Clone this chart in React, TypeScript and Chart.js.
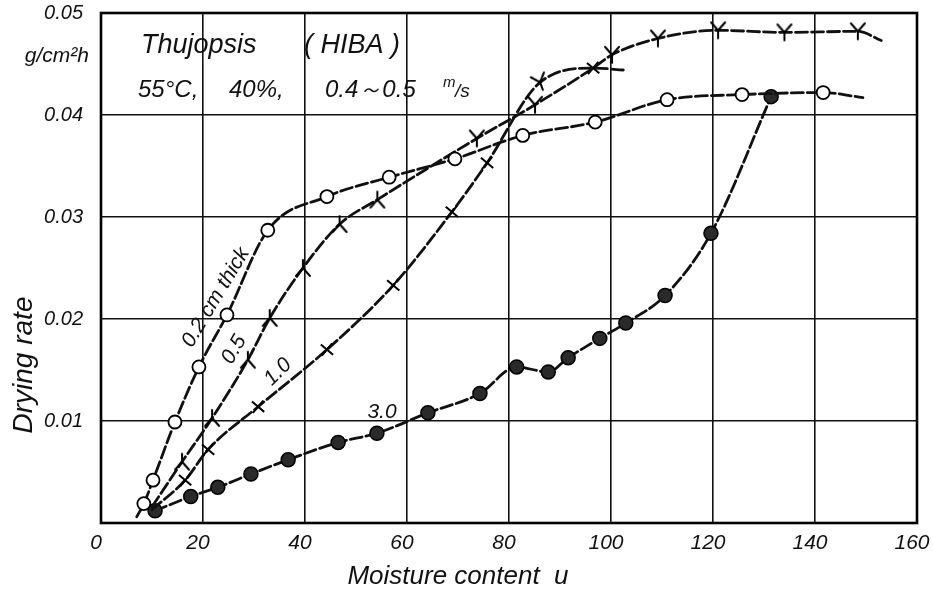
import { useEffect, useRef } from 'react';
import { Chart, registerables } from 'chart.js';

Chart.register(...registerables);

// Axis ticks
const moistureTicks = [0, 20, 40, 60, 80, 100, 120, 140, 160];
const rateTicks = [0, 0.01, 0.02, 0.03, 0.04, 0.05];

// 0.2 cm thick board
const u02 = [7, 8.4, 10.2, 14.5, 19.2, 24.7, 32.7, 44.3, 56.5, 69.4, 82.7, 96.9, 111, 125.7, 141.6, 149.4];
const rate02 = [0.0006, 0.0019, 0.0042, 0.0099, 0.0153, 0.0204, 0.0287, 0.032, 0.0339, 0.0357, 0.038, 0.0393, 0.0415, 0.042, 0.0422, 0.0417];

// 0.5 cm thick board
const u05 = [10, 15.9, 21.8, 28.8, 33.1, 39.6, 46.8, 54.2, 73.7, 85.1, 96.5, 100.2, 109.2, 121, 134, 148.4, 153];
const rate05 = [0.0016, 0.006, 0.0103, 0.016, 0.0201, 0.025, 0.0293, 0.0317, 0.0377, 0.041, 0.0446, 0.0459, 0.0475, 0.0483, 0.0481, 0.0482, 0.0473];

// 1.0 cm thick board
const u10 = [10, 16.5, 21, 30.8, 44.3, 57.3, 68.8, 75.7, 86.1, 96.5, 102.7];
const rate10 = [0.0013, 0.0042, 0.0072, 0.0114, 0.017, 0.0233, 0.0305, 0.0353, 0.0432, 0.0446, 0.0444];

// 3.0 cm thick board
const u30 = [10.6, 17.6, 22.9, 29.4, 36.7, 46.5, 54.1, 64.1, 74.3, 81.5, 87.7, 91.6, 97.8, 102.9, 110.6, 119.6, 131.4];
const rate30 = [0.0012, 0.0026, 0.0035, 0.0048, 0.0062, 0.0079, 0.0088, 0.0108, 0.0127, 0.0153, 0.0148, 0.0162, 0.0181, 0.0196, 0.0223, 0.0284, 0.0418];

const curveLabels = [
  { text: '0.2 cm thick', u: 22.5, v: 0.0221, angle: -59 },
  { text: '0.5', u: 26.1, v: 0.017, angle: -60 },
  { text: '1.0', u: 34.7, v: 0.0148, angle: -45 },
  { text: '3.0', u: 55.1, v: 0.0109, angle: 0 },
];

const FONT = '"Liberation Sans", Arial, sans-serif';

const toPoints = (xs: number[], ys: number[]) => xs.map((x, i) => ({ x, y: ys[i] }));

function makeYMarker(): HTMLCanvasElement {
  const c = document.createElement('canvas');
  c.width = 20;
  c.height = 20;
  const g = c.getContext('2d')!;
  g.strokeStyle = '#000';
  g.lineWidth = 2;
  g.lineCap = 'round';
  g.beginPath();
  g.moveTo(10, 10);
  g.lineTo(10, 18);
  g.moveTo(10, 10);
  g.lineTo(3, 2);
  g.moveTo(10, 10);
  g.lineTo(17, 2);
  g.stroke();
  return c;
}

const textPlugin = {
  id: 'dryingText',
  beforeDatasetsDraw(chart: any) {
    const { ctx, chartArea } = chart;
    ctx.save();
    ctx.strokeStyle = '#000';
    ctx.lineWidth = 2.6;
    ctx.strokeRect(chartArea.left, chartArea.top, chartArea.right - chartArea.left, chartArea.bottom - chartArea.top);
    ctx.restore();
  },
  afterDraw(chart: any) {
    const { ctx, chartArea, scales } = chart;
    const L = chartArea.left;
    const T = chartArea.top;
    ctx.save();
    ctx.fillStyle = '#111';
    ctx.textBaseline = 'alphabetic';
    ctx.textAlign = 'left';

    ctx.font = `italic 27px ${FONT}`;
    ctx.fillText('Thujopsis', L + 40, T + 40);
    ctx.fillText('( HIBA )', L + 203, T + 40);

    ctx.font = `italic 24px ${FONT}`;
    ctx.fillText('55°C,', L + 37, T + 84);
    ctx.fillText('40%,', L + 128, T + 84);
    ctx.fillText('0.4～0.5', L + 224, T + 84);
    ctx.font = `italic 15px ${FONT}`;
    ctx.fillText('m', L + 342, T + 74);
    ctx.font = `italic 19px ${FONT}`;
    ctx.fillText('/s', L + 354, T + 84);

    // unit under the top tick
    ctx.font = `italic 21px ${FONT}`;
    ctx.textAlign = 'right';
    ctx.fillText('g/cm²h', L - 12, T + 49);

    // curve labels
    ctx.font = `italic 21px ${FONT}`;
    ctx.textAlign = 'center';
    ctx.textBaseline = 'middle';
    for (const lab of curveLabels) {
      const px = scales.x.getPixelForValue(lab.u);
      const py = scales.y.getPixelForValue(lab.v);
      ctx.save();
      ctx.translate(px, py);
      ctx.rotate((lab.angle * Math.PI) / 180);
      ctx.fillText(lab.text, 0, 0);
      ctx.restore();
    }

    // axis titles
    ctx.font = `italic 26px ${FONT}`;
    ctx.fillText('Moisture content  u', 458, 577);
    ctx.font = `italic 28px ${FONT}`;
    ctx.save();
    ctx.translate(24, 365);
    ctx.rotate(-Math.PI / 2);
    ctx.fillText('Drying rate', 0, 0);
    ctx.restore();
    ctx.restore();
  },
};

export default function App() {
  const ref = useRef<HTMLCanvasElement>(null);

  useEffect(() => {
    const yImg = makeYMarker();
    const lineBase = {
      borderColor: '#111',
      borderWidth: 2.8,
      borderDash: [12, 4],
      borderCapStyle: 'round' as const,
      cubicInterpolationMode: 'monotone' as const,
      fill: false,
      pointBorderColor: '#000',
    };

    const chart = new Chart(ref.current!, {
      type: 'line',
      data: {
        datasets: [
          {
            ...lineBase,
            label: '0.2',
            data: toPoints(u02, rate02),
            pointStyle: (c: any) => (c.dataIndex === 0 || c.dataIndex === u02.length - 1 ? false : 'circle'),
            pointRadius: 6.5,
            pointBackgroundColor: '#fff',
            pointBorderWidth: 1.8,
          },
          {
            ...lineBase,
            label: '0.5',
            data: toPoints(u05, rate05),
            pointStyle: (c: any) =>
              c.dataIndex === 0 || c.dataIndex === 10 || c.dataIndex === u05.length - 1 ? false : yImg,
            pointRotation: (c: any) => (c.dataIndex < 8 ? 180 : 0),
            pointRadius: 8,
          },
          {
            ...lineBase,
            label: '1.0',
            data: toPoints(u10, rate10),
            pointStyle: (c: any) =>
              c.dataIndex === 0 || c.dataIndex === u10.length - 1 ? false : c.dataIndex === 8 ? yImg : 'cross',
            pointRotation: (c: any) => (c.dataIndex === 8 ? -20 : 40),
            pointRadius: 8,
            pointBorderWidth: 2,
            pointBackgroundColor: '#fff',
          },
          {
            ...lineBase,
            label: '3.0',
            data: toPoints(u30, rate30),
            pointStyle: 'circle',
            pointRadius: 7,
            pointBackgroundColor: '#2a2a2a',
            pointBorderWidth: 1.5,
          },
        ],
      },
      options: {
        animation: false,
        responsive: false,
        layout: { padding: { top: 13, right: 16, left: 0, bottom: 0 } },
        plugins: { legend: { display: false }, tooltip: { enabled: false } },
        scales: {
          x: {
            type: 'linear',
            min: 0,
            max: 160,
            afterBuildTicks: (s: any) => {
              s.ticks = moistureTicks.map((value) => ({ value }));
            },
            afterFit: (s: any) => {
              s.height = 73;
              s.paddingLeft = 0;
              s.paddingRight = 0;
            },
            grid: { color: '#111', lineWidth: 1.6, drawTicks: false },
            border: { display: false },
            ticks: {
              padding: 8,
              labelOffset: -5,
              color: '#111',
              font: { family: FONT, size: 21, style: 'italic' },
              callback: (v: any) => String(v),
            },
          },
          y: {
            type: 'linear',
            min: 0,
            max: 0.05,
            afterBuildTicks: (s: any) => {
              s.ticks = rateTicks.map((value) => ({ value }));
            },
            afterFit: (s: any) => {
              s.width = 101;
              s.paddingTop = 0;
              s.paddingBottom = 0;
            },
            grid: { color: '#111', lineWidth: 1.6, drawTicks: false },
            border: { display: false },
            ticks: {
              padding: 18,
              color: '#111',
              font: { family: FONT, size: 20, style: 'italic' },
              callback: (v: any) => (Number(v) === 0 ? '' : Number(v).toFixed(2)),
            },
          },
        },
      },
      plugins: [textPlugin],
    });
    return () => chart.destroy();
  }, []);

  return (
    <div style={{ position: 'fixed', left: 0, top: 0, width: 933, height: 596, background: '#fff' }}>
      <canvas ref={ref} width={933} height={596} style={{ display: 'block', width: 933, height: 596 }} />
    </div>
  );
}
